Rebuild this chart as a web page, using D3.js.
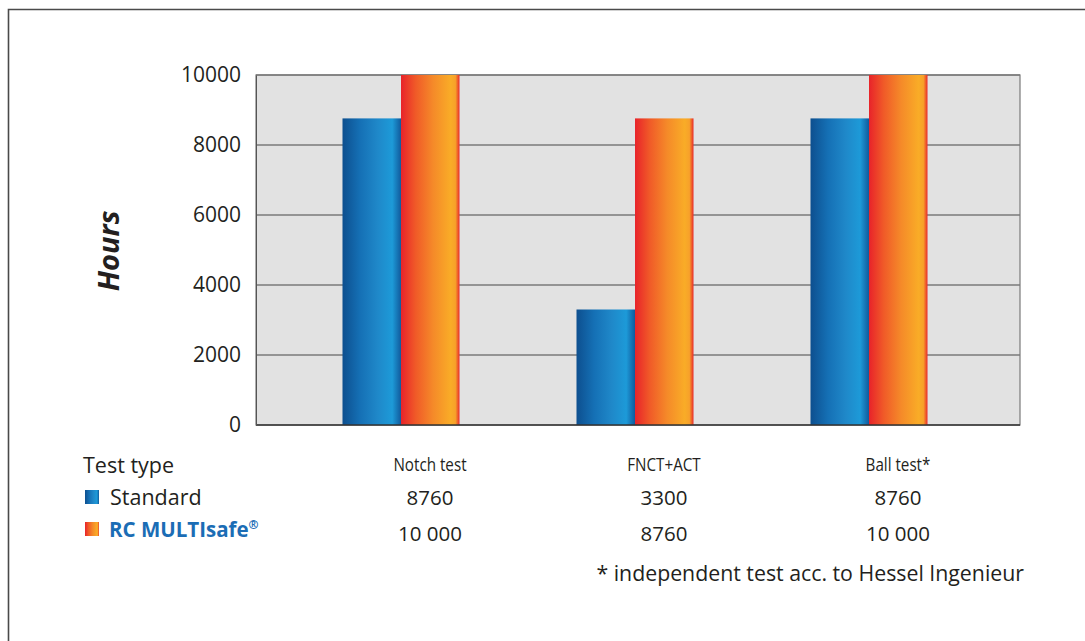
<!DOCTYPE html>
<html>
<head>
<meta charset="utf-8">
<script src="https://cdn.jsdelivr.net/npm/d3@7"></script>
<style>
  body { margin: 0; background: #fff; }
  svg { display: block; font-family: "Open Sans", "Noto Sans", sans-serif; }
</style>
</head>
<body>
<svg id="chart" width="1085" height="641"></svg>
<script>
// data
const categories = ["Notch test", "FNCT+ACT", "Ball test*"];
const standardValues = [8760, 3300, 8760];
const multisafeValues = [10000, 8760, 10000];
const standardLabels = ["8760", "3300", "8760"];
const multisafeLabels = ["10 000", "8760", "10 000"];
const yTicks = [0, 2000, 4000, 6000, 8000, 10000];
const seriesNames = ["Standard", "RC MULTIsafe®"];

const svg = d3.select("#chart");

// outer frame (top and left edge visible)
svg.append("path")
  .attr("d", "M8.5,641 V9.5 H1085")
  .attr("fill", "none")
  .attr("stroke", "#4a4a4a")
  .attr("stroke-width", 1.6);

const plot = { left: 256, right: 1020, top: 75, bottom: 425 };

const y = d3.scaleLinear().domain([0, 10000]).range([plot.bottom, plot.top]);
const x0 = d3.scaleBand().domain(categories).range([284, 986])
  .paddingInner(0.5).paddingOuter(0.25);
const x1 = d3.scaleBand().domain(seriesNames).range([0, x0.bandwidth()]);

// gradients
const defs = svg.append("defs");
function gradient(id, stops) {
  const g = defs.append("linearGradient").attr("id", id)
    .attr("x1", "0%").attr("x2", "100%").attr("y1", "0%").attr("y2", "0%");
  stops.forEach(([o, c]) => g.append("stop").attr("offset", o).attr("stop-color", c));
}
gradient("gBlue", [["0%", "#0d4f8f"], ["30%", "#1570b5"], ["60%", "#1f88c9"], ["85%", "#1d9ad8"], ["100%", "#115a9c"]]);
gradient("gOrange", [["0%", "#e8232a"], ["25%", "#f05a28"], ["55%", "#f58a29"], ["85%", "#f9ac27"], ["93%", "#f7a12a"], ["100%", "#e82a2a"]]);
const fills = { "Standard": "url(#gBlue)", "RC MULTIsafe®": "url(#gOrange)" };

// plot background
svg.append("rect")
  .attr("x", plot.left).attr("y", plot.top)
  .attr("width", plot.right - plot.left).attr("height", plot.bottom - plot.top)
  .attr("fill", "#e2e2e2")
  .attr("stroke", "#7a7a7a").attr("stroke-width", 1.2);

// gridlines
svg.append("g")
  .selectAll("line")
  .data(yTicks.slice(1))
  .enter()
  .append("line")
  .attr("x1", plot.left).attr("x2", plot.right)
  .attr("y1", (d) => y(d)).attr("y2", (d) => y(d))
  .attr("stroke", "#7a7a7a").attr("stroke-width", 1.6);

// bars
const rows = categories.map((c, i) => ({
  cat: c,
  vals: [
    { key: seriesNames[0], value: standardValues[i] },
    { key: seriesNames[1], value: multisafeValues[i] },
  ],
}));

svg.append("g")
  .selectAll("g")
  .data(rows)
  .enter()
  .append("g")
  .attr("transform", (d) => `translate(${x0(d.cat)},0)`)
  .selectAll("rect")
  .data((d) => d.vals)
  .enter()
  .append("rect")
  .attr("x", (d) => x1(d.key))
  .attr("y", (d) => y(d.value))
  .attr("width", x1.bandwidth())
  .attr("height", (d) => y(0) - y(d.value))
  .attr("fill", (d) => fills[d.key]);

// baseline
svg.append("line")
  .attr("x1", plot.left).attr("x2", plot.right)
  .attr("y1", plot.bottom).attr("y2", plot.bottom)
  .attr("stroke", "#333").attr("stroke-width", 1.6);

// y axis
const yAxis = svg.append("g")
  .attr("transform", `translate(${plot.left},0)`)
  .call(d3.axisLeft(y).tickValues(yTicks).tickSize(0).tickPadding(15).tickFormat(d3.format("d")));
yAxis.select(".domain").attr("stroke", "#555");
yAxis.selectAll("text")
  .style("font-family", "'Open Sans', sans-serif")
  .style("font-size", "21px")
  .attr("fill", "#231f20");

svg.append("text")
  .attr("transform", "translate(119,251) rotate(-90)")
  .attr("text-anchor", "middle")
  .style("font-size", "29px")
  .style("font-weight", "bold")
  .style("font-style", "italic")
  .attr("fill", "#231f20")
  .text("Hours");

// table under chart
const colX = (c) => x0(c) + x0.bandwidth() / 2 + 29;

svg.append("text")
  .attr("x", 83).attr("y", 473)
  .style("font-size", "21.5px").attr("fill", "#231f20")
  .text("Test type");

svg.append("g")
  .selectAll("text")
  .data(categories)
  .enter()
  .append("text")
  .attr("x", (d) => colX(d)).attr("y", 471)
  .attr("text-anchor", "middle")
  .attr("transform", (d) => `translate(${colX(d)},0) scale(0.8,1) translate(${-colX(d)},0)`)
  .style("font-size", "19px")
  .attr("fill", "#231f20")
  .text((d) => d);

const legendRows = [
  { name: seriesNames[0], labels: standardLabels, y: 505 },
  { name: seriesNames[1], labels: multisafeLabels, y: 541 },
];

legendRows.forEach((r, k) => {
  svg.append("rect")
    .attr("x", 85).attr("y", k === 0 ? 490 : 522)
    .attr("width", 14).attr("height", 14)
    .attr("fill", fills[r.name]);

  svg.append("g")
    .selectAll("text")
    .data(categories)
    .enter()
    .append("text")
    .attr("x", (d) => colX(d)).attr("y", r.y)
    .attr("text-anchor", "middle")
    .style("font-size", "20.5px")
    .attr("fill", "#231f20")
    .text((d, i) => r.labels[i]);
});

svg.append("text")
  .attr("x", 110).attr("y", 505)
  .style("font-size", "21.5px").attr("fill", "#231f20")
  .text("Standard");

const ms = svg.append("text")
  .attr("x", 109).attr("y", 537)
  .style("font-size", "20.5px").style("font-weight", "bold")
  .attr("fill", "#1b6db5");
ms.append("tspan").text("RC MULTIsafe");
ms.append("tspan").attr("dy", -8).style("font-size", "12px").text("®");

svg.append("text")
  .attr("x", 1024).attr("y", 581)
  .attr("text-anchor", "end")
  .style("font-size", "21.3px").attr("fill", "#231f20")
  .text("* independent test acc. to Hessel Ingenieur");
</script>
</body>
</html>
